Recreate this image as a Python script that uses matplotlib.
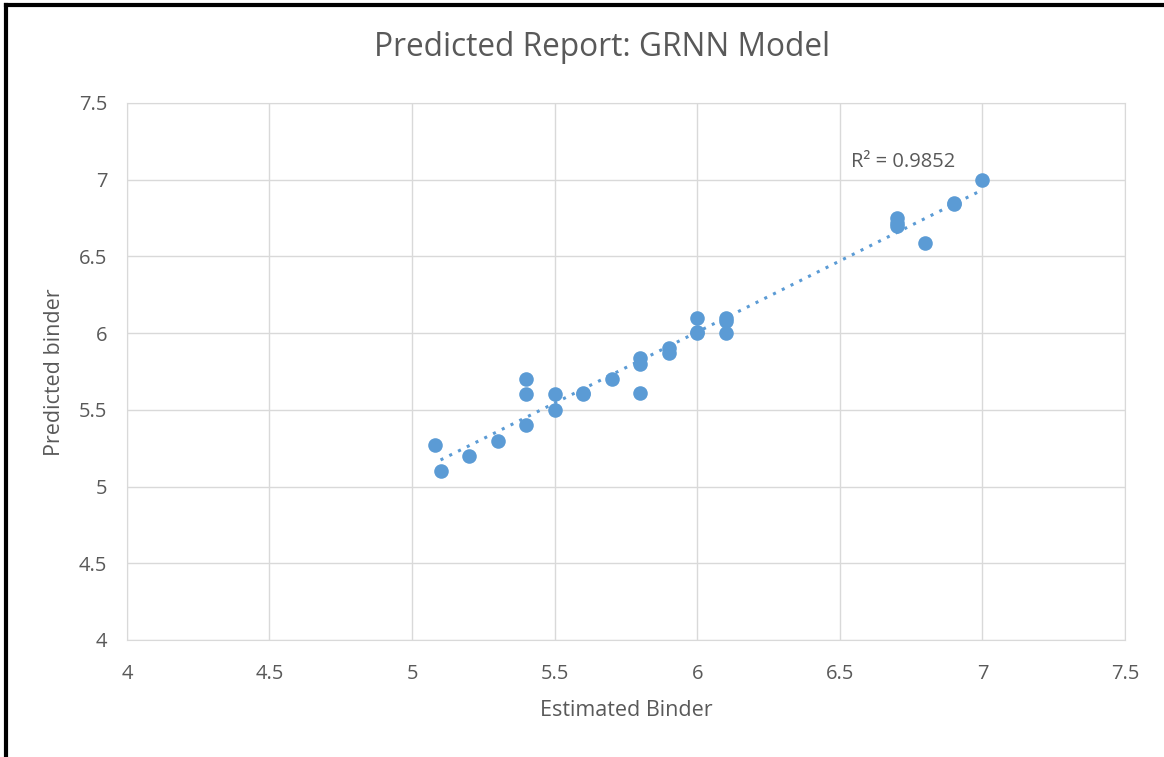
import numpy as np
import matplotlib.pyplot as plt
from matplotlib.lines import Line2D

estimated = [5.08, 5.1, 5.2, 5.3, 5.4, 5.4, 5.4, 5.5, 5.5, 5.6, 5.6, 5.7, 5.8, 5.8, 5.8,
             5.9, 5.9, 6.0, 6.0, 6.0, 6.1, 6.1, 6.1, 6.7, 6.7, 6.7, 6.8, 6.9, 6.9, 7.0]
predicted = [5.27, 5.1, 5.2, 5.3, 5.4, 5.6, 5.7, 5.5, 5.6, 5.6, 5.61, 5.7, 5.61, 5.8, 5.84,
             5.87, 5.9, 6.0, 6.01, 6.1, 6.0, 6.08, 6.1, 6.7, 6.72, 6.75, 6.59, 6.84, 6.85, 7.0]
ticks = [4, 4.5, 5, 5.5, 6, 6.5, 7, 7.5]

blue = '#5B9BD5'
grey = '#595959'
font = 'Open Sans'

fig = plt.figure(figsize=(11.64, 7.57), dpi=100)
ax = fig.add_axes([0.109, 0.1546, 0.8575, 0.7094])

ax.scatter(estimated, predicted, s=110, color=blue, zorder=3, linewidths=0)

# linear trendline
x = np.array(estimated)
y = np.array(predicted)
m, b = np.polyfit(x, y, 1)
xs = np.array([5.1, x.max()])
ax.plot(xs, m * xs + b, color=blue, linestyle=(0, (1, 2.2)), linewidth=2.2, zorder=2)
ax.text(6.54, 7.08, 'R² = 0.9852', fontsize=14.5, color=grey, family=font)

ax.set_xlim(4, 7.5)
ax.set_ylim(4, 7.5)
ax.set_xticks(ticks)
ax.set_yticks(ticks)
ax.set_xticklabels([f'{t:g}' for t in ticks])
ax.set_yticklabels([f'{t:g}' for t in ticks])
ax.grid(True, color='#D9D9D9', linewidth=1)
ax.set_axisbelow(True)
for s in ax.spines.values():
    s.set_color('#D9D9D9')
ax.tick_params(length=0, labelsize=14.5, colors=grey)
ax.tick_params(axis='x', pad=17)
ax.tick_params(axis='y', pad=14)
for lab in ax.get_xticklabels() + ax.get_yticklabels():
    lab.set_family(font)

fig.text(0.538, 1 - 711 / 757, 'Estimated Binder', ha='center', va='center',
         fontsize=15.5, color=grey, family=font)
fig.text(55 / 1164, 1 - 372 / 757, 'Predicted binder', ha='center', va='center',
         rotation=90, fontsize=15.5, color=grey, family=font)
fig.text(0.517, 1 - 48 / 757, 'Predicted Report: GRNN Model', ha='center', va='center',
         fontsize=22.8, color=grey, family=font)

# black frame on the left and top edges
fig.add_artist(Line2D([6 / 1164, 6 / 1164], [0, 1 - 5 / 757], transform=fig.transFigure,
                      color='black', linewidth=3))
fig.add_artist(Line2D([6 / 1164, 1], [1 - 5 / 757, 1 - 5 / 757], transform=fig.transFigure,
                      color='black', linewidth=3))

fig.savefig('out.png', dpi=100)
